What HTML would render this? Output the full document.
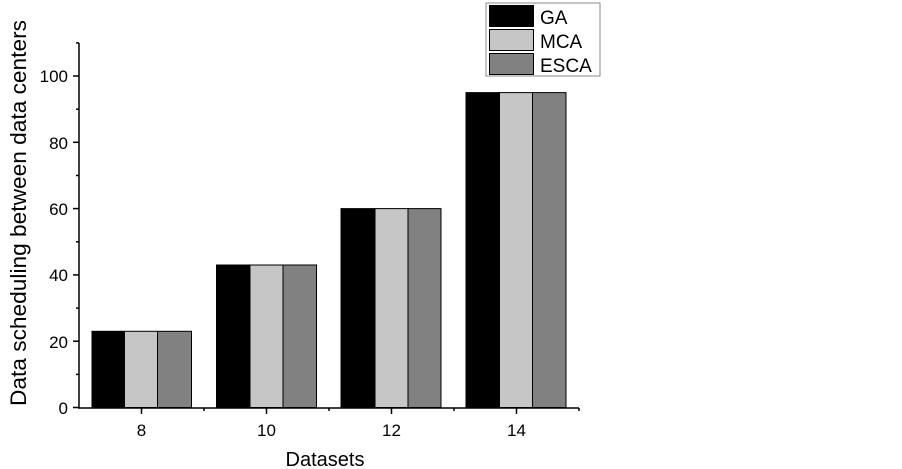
<!DOCTYPE html>
<html><head><meta charset="utf-8"><style>body{margin:0;background:#fff}svg{display:block}</style></head><body>
<svg width="902" height="469" xmlns="http://www.w3.org/2000/svg" font-family="Liberation Sans, Arial, sans-serif">
<rect width="902" height="469" fill="#fff"/>
<g stroke="#000" stroke-width="1">
<rect x="92" y="331.3" width="32.5" height="76.2" fill="#000"/>
<rect x="124.5" y="331.3" width="33" height="76.2" fill="#c6c6c6"/>
<rect x="157.5" y="331.3" width="34" height="76.2" fill="#818181"/>
<rect x="216.5" y="265" width="33.5" height="142.5" fill="#000"/>
<rect x="250" y="265" width="33" height="142.5" fill="#c6c6c6"/>
<rect x="283" y="265" width="33.5" height="142.5" fill="#818181"/>
<rect x="341" y="208.6" width="34" height="198.9" fill="#000"/>
<rect x="375" y="208.6" width="33" height="198.9" fill="#c6c6c6"/>
<rect x="408" y="208.6" width="33" height="198.9" fill="#818181"/>
<rect x="466" y="92.6" width="33.5" height="314.9" fill="#000"/>
<rect x="499.5" y="92.6" width="33" height="314.9" fill="#c6c6c6"/>
<rect x="532.5" y="92.6" width="33.5" height="314.9" fill="#818181"/>
</g>
<g stroke="#000" stroke-width="1.5" fill="none">
<line x1="79" y1="43" x2="79" y2="408"/>
<line x1="78" y1="408" x2="579" y2="408"/>
<line x1="73" y1="407.5" x2="79" y2="407.5"/><line x1="73" y1="341.2" x2="79" y2="341.2"/><line x1="73" y1="274.9" x2="79" y2="274.9"/><line x1="73" y1="208.6" x2="79" y2="208.6"/><line x1="73" y1="142.3" x2="79" y2="142.3"/><line x1="73" y1="76" x2="79" y2="76"/>
<line x1="76" y1="374.4" x2="79" y2="374.4"/><line x1="76" y1="308.1" x2="79" y2="308.1"/><line x1="76" y1="241.8" x2="79" y2="241.8"/><line x1="76" y1="175.5" x2="79" y2="175.5"/><line x1="76" y1="109.2" x2="79" y2="109.2"/><line x1="76" y1="42.9" x2="79" y2="42.9"/>
<line x1="141.5" y1="408" x2="141.5" y2="414"/><line x1="266.5" y1="408" x2="266.5" y2="414"/><line x1="391.5" y1="408" x2="391.5" y2="414"/><line x1="516.5" y1="408" x2="516.5" y2="414"/>
<line x1="204" y1="408" x2="204" y2="411"/><line x1="329" y1="408" x2="329" y2="411"/><line x1="454" y1="408" x2="454" y2="411"/><line x1="579" y1="408" x2="579" y2="411"/>
</g>
<g font-size="17" text-anchor="end" fill="#000">
<text x="68" y="414">0</text><text x="68" y="348">20</text><text x="68" y="281">40</text><text x="68" y="215">60</text><text x="68" y="149">80</text><text x="68" y="82">100</text>
</g>
<g font-size="17" text-anchor="middle" fill="#000">
<text x="141.5" y="436">8</text><text x="266.5" y="436">10</text><text x="391.5" y="436">12</text><text x="516.5" y="436">14</text>
</g>
<text x="325" y="466" font-size="20" text-anchor="middle">Datasets</text>
<text transform="translate(26,213) rotate(-90)" font-size="22" text-anchor="middle" textLength="386" lengthAdjust="spacingAndGlyphs">Data scheduling between data centers</text>
<rect x="486" y="3" width="114" height="73" fill="#fff" stroke="#888" stroke-width="1"/>
<rect x="489.5" y="5.5" width="44" height="21" fill="#000" stroke="#000"/>
<rect x="489.5" y="29.5" width="44" height="21" fill="#c6c6c6" stroke="#000"/>
<rect x="489.5" y="53.5" width="44" height="21" fill="#818181" stroke="#000"/>
<g font-size="19" fill="#000"><text x="540" y="24">GA</text><text x="540" y="48">MCA</text><text x="540" y="72">ESCA</text></g>
</svg>
</body></html>
